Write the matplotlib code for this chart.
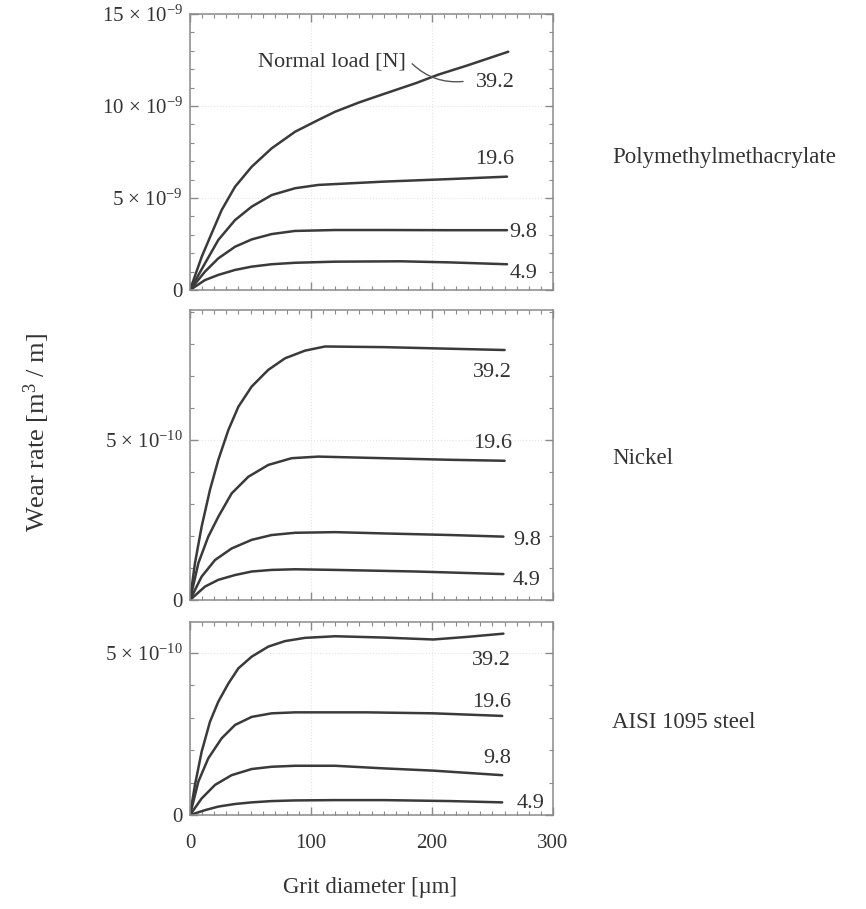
import matplotlib

matplotlib.use('Agg')
import matplotlib.pyplot as plt
from matplotlib.ticker import FixedLocator, MultipleLocator

plt.rcParams['font.family'] = ['Liberation Serif', 'DejaVu Serif']
plt.rcParams['mathtext.fontset'] = 'custom'
plt.rcParams['mathtext.rm'] = 'Liberation Serif'
plt.rcParams['mathtext.it'] = 'Liberation Serif:italic'

loads = ['39.2', '19.6', '9.8', '4.9']

# grit diameter [um] / wear rate
pmma_x = [
    [0, 9.7, 17.9, 26.2, 37.2, 51, 67.5, 86.8, 106, 120, 140, 160, 187, 205, 229, 263],
    [0, 12.4, 23.4, 37.2, 51, 67.5, 86.8, 106, 160, 215, 262],
    [0, 12.4, 23.4, 37.2, 51, 67.5, 86.8, 120, 160, 215, 262],
    [0, 12.4, 23.4, 37.2, 51, 67.5, 86.8, 120, 174, 215, 262],
]
pmma_y = [  # x 1e-9
    [0, 1.81, 3.08, 4.35, 5.61, 6.7, 7.7, 8.6, 9.24, 9.69, 10.2, 10.65, 11.25, 11.7, 12.2, 12.95],
    [0, 1.45, 2.72, 3.8, 4.53, 5.16, 5.53, 5.71, 5.89, 6.03, 6.16],
    [0, 1.0, 1.72, 2.35, 2.75, 3.04, 3.21, 3.26, 3.26, 3.25, 3.25],
    [0, 0.54, 0.82, 1.09, 1.27, 1.4, 1.48, 1.54, 1.56, 1.5, 1.4],
]

nickel_x = [
    [0, 4.1, 9.6, 16.5, 23.4, 31.7, 40, 51, 64.7, 78.5, 95, 111.6, 160, 215, 260],
    [0, 6.9, 15.1, 23.4, 34.4, 48.2, 64.7, 84, 106, 160, 215, 260],
    [0, 9.6, 20.7, 34.4, 51, 67.5, 86.8, 120, 160, 215, 259],
    [0, 12.4, 23.4, 37.2, 51, 67.5, 86.8, 120, 187, 259],
]
nickel_y = [  # x 1e-10
    [0, 1.15, 2.29, 3.44, 4.38, 5.31, 6.04, 6.67, 7.19, 7.55, 7.79, 7.92, 7.9, 7.85, 7.81],
    [0, 1.15, 1.98, 2.6, 3.33, 3.85, 4.22, 4.43, 4.48, 4.43, 4.38, 4.35],
    [0, 0.73, 1.25, 1.61, 1.88, 2.03, 2.1, 2.12, 2.08, 2.03, 1.98],
    [0, 0.42, 0.63, 0.78, 0.89, 0.94, 0.96, 0.94, 0.89, 0.81],
]

steel_x = [
    [0, 4.1, 9.6, 16.5, 23.4, 31.7, 40, 51, 64.7, 78.5, 95, 120, 160, 201, 229, 259],
    [0, 6.9, 15.1, 26.2, 37.2, 51, 67.5, 86.8, 120, 146, 201, 258],
    [0, 9.6, 20.7, 34.4, 51, 67.5, 86.8, 120, 160, 201, 258],
    [0, 12.4, 23.4, 37.2, 51, 67.5, 86.8, 120, 160, 215, 258],
]
steel_y = [  # x 1e-10
    [0, 0.93, 1.95, 2.88, 3.5, 4.06, 4.53, 4.89, 5.2, 5.37, 5.47, 5.52, 5.48, 5.42, 5.5, 5.6],
    [0, 1.03, 1.75, 2.37, 2.78, 3.03, 3.14, 3.17, 3.17, 3.17, 3.14, 3.06],
    [0, 0.51, 0.93, 1.23, 1.42, 1.49, 1.52, 1.52, 1.44, 1.37, 1.23],
    [0, 0.15, 0.26, 0.34, 0.39, 0.43, 0.45, 0.46, 0.46, 0.43, 0.39],
]

# where the load numbers sit (data coords)
pmma_lbl = [(236, 11.3), (236, 7.07), (264, 3.1), (264, 0.92)]
nickel_lbl = [(234, 7.1), (234, 4.9), (267, 1.87), (267, 0.62)]
steel_lbl = [(233, 4.78), (233, 3.46), (242, 1.76), (270, 0.37)]

materials = ['Polymethylmethacrylate', 'Nickel', 'AISI 1095 steel']
x_ticks = [0, 100, 200, 300]

INK = '#333333'
FRAME = '#8a8a8a'
W, H = 866, 909


def px_rect(left, top, right, bottom):
    return [left / W, 1 - bottom / H, (right - left) / W, (bottom - top) / H]


fig = plt.figure(figsize=(W / 100, H / 100), dpi=100)

panels = [
    dict(rect=px_rect(190, 14, 553, 290), xs=pmma_x, ys=pmma_y, scale=1e-9,
         ylim=15, yticks=[0, 5, 10, 15], lbl=pmma_lbl,
         ylabels=['0', '5 × 10$^{-9}$', '10 × 10$^{-9}$', '15 × 10$^{-9}$'],
         name_y=158),
    dict(rect=px_rect(190, 310, 553, 600), xs=nickel_x, ys=nickel_y, scale=1e-10,
         ylim=9.06, yticks=[0, 5], lbl=nickel_lbl,
         ylabels=['0', '5 × 10$^{-10}$'], name_y=458),
    dict(rect=px_rect(190, 622, 553, 815), xs=steel_x, ys=steel_y, scale=1e-10,
         ylim=5.96, yticks=[0, 5], lbl=steel_lbl,
         ylabels=['0', '5 × 10$^{-10}$'], name_y=722),
]

axes = []
for i, p in enumerate(panels):
    ax = fig.add_axes(p['rect'])
    for xs, ys in zip(p['xs'], p['ys']):
        ax.plot(xs, [v * p['scale'] for v in ys], color='#3a3a3a', lw=1.8,
                solid_capstyle='round', solid_joinstyle='round')
    for load, (lx, ly) in zip(loads, p['lbl']):
        ax.text(lx, ly * p['scale'], load, fontsize=16, color=INK,
                ha='left', va='center')

    ax.set_xlim(0, 300)
    ax.set_ylim(0, p['ylim'] * p['scale'])
    ax.xaxis.set_major_locator(FixedLocator(x_ticks))
    ax.xaxis.set_minor_locator(MultipleLocator(10))
    ax.yaxis.set_major_locator(FixedLocator([t * p['scale'] for t in p['yticks']]))
    ax.yaxis.set_minor_locator(MultipleLocator(p['scale']))
    ax.set_yticklabels(p['ylabels'])
    ax.tick_params(which='both', direction='in', top=True, right=True,
                   color=FRAME, labelcolor=INK, labelsize=15)
    ax.tick_params(which='major', length=6, width=1)
    ax.tick_params(which='minor', length=3, width=0.8)
    ax.tick_params(axis='y', pad=5)
    if i < 2:
        ax.tick_params(axis='x', labelbottom=False)
    else:
        ax.set_xticklabels([str(t) for t in x_ticks])
        ax.tick_params(axis='x', pad=14)
    for s in ax.spines.values():
        s.set_color(FRAME)
        s.set_linewidth(1.1)
    ax.grid(True, which='major', color='#e4e4e4', ls=':', lw=0.8)
    fig.text(612 / W, 1 - p['name_y'] / H, materials[i], fontsize=16.5,
             color=INK, ha='left', va='center')
    axes.append(ax)

top = axes[0]
top.text(178, 12.4e-9, 'Normal load [N]', fontsize=16, color=INK,
         ha='right', va='center')
top.annotate('', xy=(228, 11.35e-9), xytext=(182, 12.4e-9),
             arrowprops=dict(arrowstyle='-', color='#555555', lw=1,
                             connectionstyle='arc3,rad=0.25'))

fig.text(37 / W, 1 - 433 / H, 'Wear rate [m$^3$ / m]', fontsize=19,
         color=INK, rotation=90, ha='center', va='center')
fig.text(370 / W, 1 - 888 / H, 'Grit diameter [µm]', fontsize=16.5,
         color=INK, ha='center', va='center')

fig.savefig('out.png', dpi=100, facecolor='white')
plt.close(fig)
